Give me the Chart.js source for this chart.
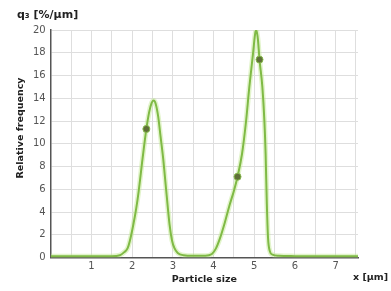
<!DOCTYPE html>
<html>
<head>
<meta charset="utf-8">
<script src="https://cdn.jsdelivr.net/npm/chart.js@4.4.1/dist/chart.umd.min.js"></script>
<style>
  body { margin: 0; background: #fff; }
  #wrap { width: 391px; height: 291px; }
</style>
</head>
<body>
<div id="wrap"><canvas id="chartPsd" width="391" height="291"></canvas></div>
<script>
// particle size (µm) and q3 density (%/µm)
const sizes = [0, 0.5, 1.0, 1.5, 1.7, 1.8, 1.89, 1.96, 2.03, 2.1, 2.16, 2.26, 2.35, 2.42, 2.48, 2.53,
  2.58, 2.64, 2.7, 2.76, 2.84, 2.92, 2.98, 3.04, 3.12, 3.26, 3.5, 3.8, 3.96, 4.06, 4.16, 4.28, 4.39,
  4.5, 4.59, 4.7, 4.8, 4.88, 4.97, 5.02, 5.05, 5.09, 5.13, 5.2, 5.25, 5.28, 5.31, 5.34, 5.38, 5.45,
  5.6, 6.0, 6.5, 7.0, 7.55];
const q3 = [0.12, 0.12, 0.12, 0.12, 0.2, 0.45, 0.82, 1.7, 2.9, 4.3, 5.8, 8.8, 11.3, 12.8, 13.6, 13.8,
  13.5, 12.4, 10.6, 8.8, 5.8, 2.9, 1.5, 0.82, 0.4, 0.2, 0.15, 0.15, 0.3, 0.8, 1.7, 3.1, 4.55,
  5.85, 7.1, 9.1, 12.0, 15.0, 17.9, 19.6, 20.0, 19.2, 17.4, 15.0, 12.0, 9.1, 4.7, 1.7, 0.6, 0.25,
  0.15, 0.12, 0.1, 0.1, 0.1];

// highlighted measurement points
const markX = [2.35, 4.59, 5.13];
const markY = [11.3, 7.1, 17.4];

const yTicks = { min: 0, max: 20, step: 2 };
const xRange = { min: 0, max: 7.55, step: 0.5 };

const curve = sizes.map((x, i) => ({ x: x, y: q3[i] }));
const marks = markX.map((x, i) => ({ x: x, y: markY[i] }));

const FONT = 'DejaVu Sans, Verdana, sans-serif';

// corner labels and the y title (sits a bit above the plot centre in the original)
const axisLabels = {
  id: 'axisLabels',
  afterDraw(chart) {
    const ctx = chart.ctx;
    ctx.save();
    ctx.fillStyle = '#222';
    ctx.textBaseline = 'middle';
    ctx.font = 'bold 11px ' + FONT;
    ctx.textAlign = 'left';
    ctx.fillText('q₃ [%/µm]', 17, 15);
    ctx.font = 'bold 9.5px ' + FONT;
    ctx.textAlign = 'right';
    ctx.fillText('x [µm]', 388, 278);
    ctx.translate(21, 128);
    ctx.rotate(-Math.PI / 2);
    ctx.textAlign = 'center';
    ctx.fillText('Relative frequency', 0, 0);
    ctx.restore();
  }
};

const ctx = document.getElementById('chartPsd').getContext('2d');
new Chart(ctx, {
  type: 'line',
  data: {
    datasets: [
      {
        data: marks,
        showLine: false,
        pointRadius: 3.5,
        pointBackgroundColor: '#5f7038',
        pointBorderColor: '#86b84c',
        pointBorderWidth: 1,
        order: 0
      },
      {
        data: curve,
        borderColor: '#7fba45',
        borderWidth: 2,
        pointRadius: 0,
        fill: false,
        cubicInterpolationMode: 'monotone',
        order: 1
      },
      {
        // soft halo under the line
        data: curve,
        borderColor: 'rgba(190, 230, 140, 0.45)',
        borderWidth: 5,
        pointRadius: 0,
        fill: false,
        cubicInterpolationMode: 'monotone',
        order: 2
      }
    ]
  },
  options: {
    responsive: false,
    animation: false,
    layout: { padding: { top: 30, right: 33, left: 28, bottom: 7 } },
    plugins: {
      legend: { display: false },
      tooltip: { enabled: false }
    },
    scales: {
      x: {
        type: 'linear',
        min: xRange.min,
        max: xRange.max,
        border: { color: '#555', width: 1.5 },
        grid: { color: '#dedede', drawTicks: false },
        ticks: {
          stepSize: xRange.step,
          includeBounds: false,
          autoSkip: false,
          maxRotation: 0,
          padding: 3,
          color: '#555',
          font: { family: FONT, size: 10 },
          callback: v => (v % 1 === 0 && v > 0) ? String(v) : ''
        },
        title: {
          display: true,
          text: 'Particle size',
          color: '#222',
          font: { family: FONT, size: 9.5, weight: 'bold', lineHeight: 1 },
          padding: { top: -1, bottom: 0 }
        }
      },
      y: {
        min: yTicks.min,
        max: yTicks.max,
        border: { color: '#555', width: 1.5 },
        grid: { color: '#dedede', drawTicks: false },
        ticks: {
          stepSize: yTicks.step,
          padding: 5,
          color: '#555',
          font: { family: FONT, size: 10 }
        }
      }
    }
  },
  plugins: [axisLabels]
});
</script>
</body>
</html>
